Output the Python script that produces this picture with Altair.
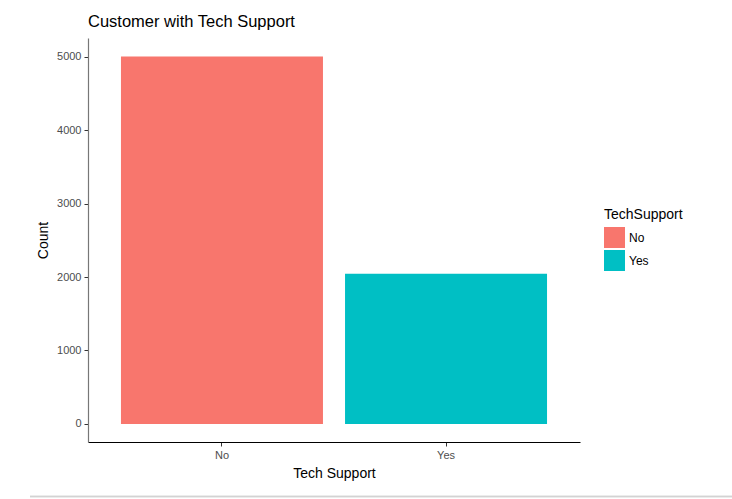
import altair as alt
import pandas as pd

categories = ["No", "Yes"]
counts = [4999, 2044]
colors = ["#F8766D", "#00BFC4"]

df = pd.DataFrame({"TechSupport": categories, "Count": counts})

W, H = 492, 404

bars = alt.Chart(df).mark_bar(size=202).encode(
    x=alt.X("TechSupport:N", title="Tech Support",
            scale=alt.Scale(paddingInner=0.0982, paddingOuter=0.147),
            axis=alt.Axis(labelAngle=0, labelColor="#4d4d4d", labelFontSize=11,
                          labelFont="Liberation Sans", labelPadding=3,
                          tickColor="#333333", tickSize=4, domainColor="#000000",
                          domainWidth=1, titleFont="Liberation Sans", titleFontSize=14,
                          titleFontWeight="normal", titleColor="#000000", titlePadding=6)),
    y=alt.Y("Count:Q", title="Count",
            scale=alt.Scale(domain=[-245, 5252], nice=False, zero=False),
            axis=alt.Axis(values=[0, 1000, 2000, 3000, 4000, 5000], grid=False, format="d",
                          labelColor="#4d4d4d", labelFontSize=11, labelFont="Liberation Sans",
                          labelPadding=3, tickColor="#333333", tickSize=4,
                          domainColor="#777777", domainWidth=1.2,
                          titleFont="Liberation Sans", titleFontSize=14,
                          titleFontWeight="normal", titleColor="#000000", titlePadding=6)),
    color=alt.Color("TechSupport:N", title="TechSupport",
                    scale=alt.Scale(domain=categories, range=colors),
                    legend=alt.Legend(orient="none", legendX=516, legendY=170,
                                      symbolType="square", symbolSize=441,
                                      symbolStrokeWidth=0, symbolOpacity=1,
                                      titleFont="Liberation Sans", titleFontSize=14,
                                      titleFontWeight="normal", titleColor="#000000",
                                      labelFont="Liberation Sans", labelFontSize=12,
                                      labelColor="#000000", rowPadding=2, titlePadding=5,
                                      labelOffset=4)),
)

sep = alt.Chart(df).mark_rule(color="#d3d3d3", strokeWidth=1.5, clip=False).encode(
    x=alt.value(-58), x2=alt.value(732 - 88), y=alt.value(458.5), y2=alt.value(458.5)
)

chart = alt.layer(bars, sep).properties(
    width=W, height=H,
    background="white",
    title=alt.TitleParams("Customer with Tech Support", anchor="start", frame="group",
                          font="Liberation Sans",
                          fontSize=16.5, fontWeight="normal", color="#000000", offset=8),
    autosize=alt.AutoSizeParams(type="none"),
    padding={"left": 88, "top": 38, "right": 732 - 88 - W, "bottom": 499 - 38 - H},
).configure_view(strokeWidth=0, stroke="transparent")

chart.save("out.html", embed_options={"renderer": "svg", "actions": False})
